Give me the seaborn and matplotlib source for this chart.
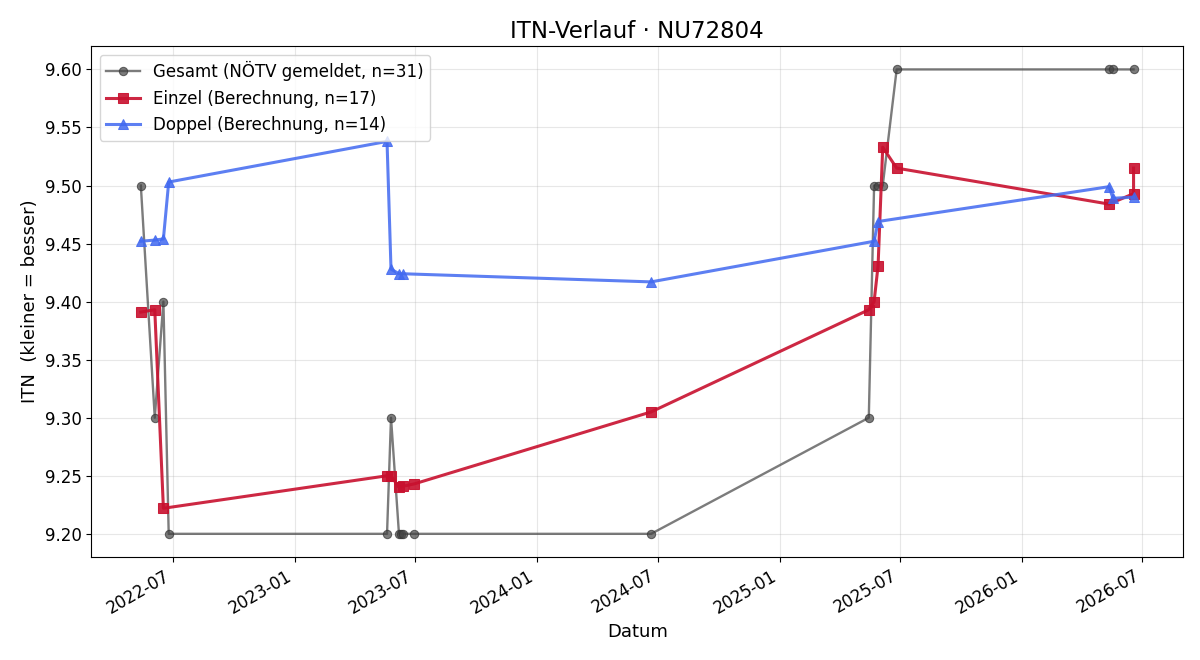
import pandas as pd
import numpy as np
import seaborn as sns
import matplotlib as mpl
import matplotlib.pyplot as plt
import matplotlib.dates as mdates

# Gesamt (NÖTV gemeldet)
ges_dates = ["2022-05-14", "2022-06-04", "2022-06-17", "2022-06-25",
             "2023-05-20", "2023-05-26", "2023-06-07", "2023-06-10", "2023-06-13", "2023-06-30",
             "2024-06-21", "2025-05-15", "2025-05-23", "2025-05-29", "2025-06-05", "2025-06-26",
             "2026-05-12", "2026-05-18", "2026-06-18"]
ges_vals = [9.50, 9.30, 9.40, 9.20,
            9.20, 9.30, 9.20, 9.20, 9.20, 9.20,
            9.20, 9.30, 9.50, 9.50, 9.50, 9.60,
            9.60, 9.60, 9.60]

# Einzel (Berechnung)
ein_dates = ["2022-05-14", "2022-06-04", "2022-06-17",
             "2023-05-20", "2023-05-26", "2023-06-07", "2023-06-13", "2023-06-30",
             "2024-06-21", "2025-05-15", "2025-05-23", "2025-05-29", "2025-06-05", "2025-06-26",
             "2026-05-12", "2026-06-18", "2026-06-18"]
ein_vals = [9.391, 9.393, 9.222,
            9.250, 9.250, 9.240, 9.241, 9.243,
            9.305, 9.393, 9.400, 9.431, 9.533, 9.515,
            9.484, 9.493, 9.515]

# Doppel (Berechnung)
dop_dates = ["2022-05-14", "2022-06-04", "2022-06-17", "2022-06-25",
             "2023-05-20", "2023-05-26", "2023-06-07", "2023-06-13",
             "2024-06-21", "2025-05-23", "2025-05-29",
             "2026-05-12", "2026-05-18", "2026-06-18"]
dop_vals = [9.452, 9.453, 9.454, 9.503,
            9.538, 9.428, 9.424, 9.424,
            9.417, 9.452, 9.469,
            9.499, 9.489, 9.490]

df_ges = pd.DataFrame({"Datum": pd.to_datetime(ges_dates), "ITN": ges_vals})
df_ein = pd.DataFrame({"Datum": pd.to_datetime(ein_dates), "ITN": ein_vals})
df_dop = pd.DataFrame({"Datum": pd.to_datetime(dop_dates), "ITN": dop_vals})

fig, ax = plt.subplots(figsize=(12, 6.6), dpi=100)

sns.lineplot(data=df_ges, x="Datum", y="ITN", ax=ax, sort=False, estimator=None,
             color="#444444", alpha=0.7, linewidth=1.7, marker="o", markersize=6,
             markeredgecolor="#333333", label="Gesamt (NÖTV gemeldet, n=31)")
sns.lineplot(data=df_ein, x="Datum", y="ITN", ax=ax, sort=False, estimator=None,
             color="#C8102E", alpha=0.9, linewidth=2.2, marker="s", markersize=7,
             markeredgecolor="#C8102E", label="Einzel (Berechnung, n=17)")
sns.lineplot(data=df_dop, x="Datum", y="ITN", ax=ax, sort=False, estimator=None,
             color="#4169F0", alpha=0.85, linewidth=2.2, marker="^", markersize=7,
             markeredgecolor="#4169F0", label="Doppel (Berechnung, n=14)")

ax.set_title("ITN-Verlauf · NU72804", fontsize=16.5)
ax.set_xlabel("Datum", fontsize=13)
ax.set_ylabel("ITN  (kleiner = besser)", fontsize=13)
ax.set_ylim(9.18, 9.62)
ax.yaxis.set_major_formatter(mpl.ticker.FormatStrFormatter("%.2f"))
ax.xaxis.set_major_locator(mdates.MonthLocator(bymonth=[1, 7]))
ax.xaxis.set_major_formatter(mdates.DateFormatter("%Y-%m"))
ax.tick_params(labelsize=12)
ax.grid(True, alpha=0.3)
ax.legend(loc="upper left", fontsize=12)
fig.autofmt_xdate()

fig.subplots_adjust(left=0.076, right=0.986, top=0.930, bottom=0.156)
plt.savefig("out.png")
